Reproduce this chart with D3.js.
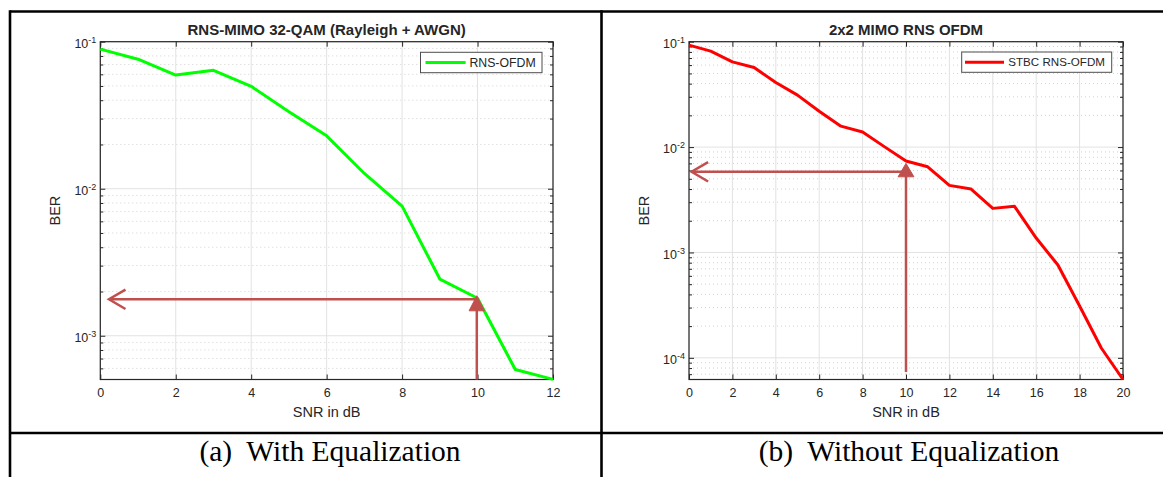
<!DOCTYPE html>
<html><head><meta charset="utf-8">
<script src="https://cdn.jsdelivr.net/npm/d3@7"></script>
<style>
html,body{margin:0;padding:0;background:#fff;}
svg{display:block;}
text{font-family:"Liberation Sans",Arial,sans-serif;fill:#262626;}
.cap{font-family:"Liberation Serif","Times New Roman",serif;fill:#000;white-space:pre;}
</style></head><body>
<svg id="c" width="1163" height="477"></svg>
<script>
// ---------------- data ----------------
const snrA = [0,1,2,3,4,5,6,7,8,9,10,11,12];
const berA = [0.089,0.076,0.0593,0.0639,0.0497,0.0334,0.0229,0.0127,0.00762,0.00243,0.00180,0.00059,0.000505];
const snrB = [0,1,2,3,4,5,6,7,8,9,10,11,12,13,14,15,16,17,18,19,20];
const berB = [0.0927,0.0813,0.0644,0.0569,0.041,0.0311,0.0219,0.0158,0.0139,0.0101,0.00737,0.0065,0.00433,0.0040,0.00262,0.00274,0.00137,0.00076,0.00031,0.000124,0.0000623];
const xTicksA = [0,2,4,6,8,10,12];
const xTicksB = [0,2,4,6,8,10,12,14,16,18,20];
const yTicksA = [0.001,0.01,0.1];
const yTicksB = [0.0001,0.001,0.01,0.1];
const yTickExpA = ["-3","-2","-1"];
const yTickExpB = ["-4","-3","-2","-1"];
const titleA = "RNS-MIMO 32-QAM (Rayleigh + AWGN)";
const titleB = "2x2 MIMO RNS OFDM";
const legendA = "RNS-OFDM";
const legendB = "STBC RNS-OFDM";
const captionA = "(a)  With Equalization";
const captionB = "(b)  Without Equalization";
// annotation arrows (data coordinates): horizontal [x0,x1] at ber, vertical at snr [ber0, ber1]
const arrowHA = [[0.23,0.00177],[10,0.00177]];
const arrowVA = [[9.98,0.000504],[9.98,0.00187]];
const arrowHB = [[0.12,0.00583],[10,0.00583]];
const arrowVB = [[10,0.0000735],[10,0.0070]];

// ---------------- layout ----------------
const svg = d3.select("#c");
const AX = "#262626", ARROW = "#c0504d";

function panel(o){
  const x = d3.scaleLinear().domain(o.xd).range([o.l,o.r]);
  const y = d3.scaleLog().domain(o.yd).range([o.b,o.t]);
  const g = svg.append("g");
  const minors = [];
  const lo = Math.floor(Math.log10(o.yd[0])), hi = Math.ceil(Math.log10(o.yd[1]));
  for (let e=lo;e<hi;e++) for (let m=2;m<=9;m++){ const v=m*Math.pow(10,e); if (v>=o.yd[0]*0.999 && v<=o.yd[1]) minors.push(v); }
  // grid
  g.append("g").selectAll("line").data(minors).join("line")
    .attr("x1",o.l).attr("x2",o.r).attr("y1",d=>y(d)).attr("y2",d=>y(d))
    .attr("stroke","#d2d2d2").attr("stroke-width",1).attr("stroke-dasharray","1,3");
  g.append("g").selectAll("line").data(o.xt).join("line")
    .attr("x1",d=>x(d)).attr("x2",d=>x(d)).attr("y1",o.t).attr("y2",o.b)
    .attr("stroke","#e2e2e2").attr("stroke-width",1);
  g.append("g").selectAll("line").data(o.yt).join("line")
    .attr("x1",o.l).attr("x2",o.r).attr("y1",d=>y(d)).attr("y2",d=>y(d))
    .attr("stroke","#e2e2e2").attr("stroke-width",1);
  // axes
  const bottom = g.append("g").attr("transform",`translate(0,${o.b})`)
    .call(d3.axisBottom(x).tickValues(o.xt).tickSize(-5).tickPadding(9).tickFormat(d3.format("d")));
  g.append("g").attr("transform",`translate(0,${o.t})`)
    .call(d3.axisTop(x).tickValues(o.xt).tickSize(-5).tickFormat(""));
  const left = g.append("g").attr("transform",`translate(${o.l},0)`)
    .call(d3.axisLeft(y).tickValues(o.yt).tickSize(-5).tickPadding(4).tickFormat(""));
  g.append("g").attr("transform",`translate(${o.l},0)`)
    .call(d3.axisLeft(y).tickValues(minors).tickSize(-3).tickFormat(""));
  g.append("g").attr("transform",`translate(${o.r},0)`)
    .call(d3.axisRight(y).tickValues(o.yt).tickSize(-5).tickFormat(""));
  g.append("g").attr("transform",`translate(${o.r},0)`)
    .call(d3.axisRight(y).tickValues(minors).tickSize(-3).tickFormat(""));
  g.selectAll(".domain").remove();
  g.selectAll(".tick line").attr("stroke",AX);
  bottom.selectAll(".tick text").attr("font-size",12.5).attr("fill",AX).attr("font-family","Liberation Sans, Arial, sans-serif");
  left.selectAll(".tick text").each(function(d,i){
    const t = d3.select(this).attr("font-size",12.5).attr("fill",AX).attr("dy","0.45em")
      .attr("font-family","Liberation Sans, Arial, sans-serif");
    t.text(null);
    t.append("tspan").text("10");
    t.append("tspan").attr("font-size",9).attr("dy",-5).text(o.exp[i]);
  });
  g.append("rect").attr("x",o.l).attr("y",o.t).attr("width",o.r-o.l).attr("height",o.b-o.t)
    .attr("fill","none").attr("stroke",AX).attr("stroke-width",1.2);
  // labels
  g.append("text").attr("x",(o.l+o.r)/2).attr("y",o.t-7).attr("text-anchor","middle")
    .attr("font-size",15).attr("font-weight","bold").attr("fill","#000").text(o.title);
  g.append("text").attr("x",(o.l+o.r)/2).attr("y",o.b+37).attr("text-anchor","middle")
    .attr("font-size",14.5).text("SNR in dB");
  g.append("text").attr("transform",`translate(${o.l-40},${(o.t+o.b)/2}) rotate(-90)`)
    .attr("text-anchor","middle").attr("font-size",14.5).text("BER");
  // data line
  const line = d3.line().x(d=>x(d[0])).y(d=>y(d[1]));
  g.append("path").datum(o.sx.map((s,i)=>[s,o.sy[i]])).attr("d",line)
    .attr("fill","none").attr("stroke",o.color).attr("stroke-width",3).attr("stroke-linejoin","round");
  // arrows
  const h = o.ah, v = o.av;
  g.append("line").attr("x1",x(h[0][0])).attr("x2",x(h[1][0])).attr("y1",y(h[0][1])).attr("y2",y(h[1][1]))
    .attr("stroke",ARROW).attr("stroke-width",2.5);
  const tx = x(h[0][0]), ty = y(h[0][1]);
  g.append("path").attr("d",`M${tx+16.5},${ty-9.7}L${tx},${ty}L${tx+16.5},${ty+9.7}`)
    .attr("fill","none").attr("stroke",ARROW).attr("stroke-width",2.5);
  const vx = x(v[0][0]), vy0 = y(v[0][1]), vy1 = y(v[1][1]);
  g.append("line").attr("x1",vx).attr("x2",vx).attr("y1",vy0).attr("y2",vy1+8)
    .attr("stroke",ARROW).attr("stroke-width",2.5);
  g.append("path").attr("d",`M${vx},${vy1}L${vx+o.tw},${vy1+o.th}L${vx-o.tw},${vy1+o.th}Z`)
    .attr("fill",ARROW).attr("stroke",ARROW).attr("stroke-width",1);
  // legend
  const L = o.leg;
  g.append("rect").attr("x",L.x0).attr("y",L.y0).attr("width",L.x1-L.x0).attr("height",L.y1-L.y0)
    .attr("fill","#fff").attr("stroke","#4d4d4d").attr("stroke-width",1);
  const ly = (L.y0+L.y1)/2;
  g.append("line").attr("x1",L.lx0).attr("x2",L.lx1).attr("y1",ly).attr("y2",ly)
    .attr("stroke",o.color).attr("stroke-width",3);
  g.append("text").attr("x",L.tx).attr("y",ly+4.2).attr("font-size",L.fs).attr("fill","#000").text(o.legend);
}

panel({xd:[0,12], yd:[0.000504,0.1], l:100.3, r:553, t:41.7, b:379.5, xt:xTicksA, yt:yTicksA, exp:yTickExpA,
  title:titleA, sx:snrA, sy:berA, color:"#00ff00", ah:arrowHA, av:arrowVA, tw:7.7, th:15,
  leg:{x0:420.5,x1:542,y0:52.3,y1:72.7,lx0:425.5,lx1:465.6,tx:469.4,fs:12.3}, legend:legendA});
panel({xd:[0,20], yd:[0.0000623,0.1], l:689, r:1123, t:41.7, b:379.5, xt:xTicksB, yt:yTicksB, exp:yTickExpB,
  title:titleB, sx:snrB, sy:berB, color:"#ff0000", ah:arrowHB, av:arrowVB, tw:7.9, th:13.4,
  leg:{x0:961.7,x1:1111.7,y0:52,y1:72.3,lx0:965,lx1:1004,tx:1008.3,fs:11.6}, legend:legendB});

// table frame
const T = svg.append("g").attr("stroke","#000").attr("stroke-width",2.6);
T.append("line").attr("x1",10).attr("x2",1163).attr("y1",11.5).attr("y2",11.5);
T.append("line").attr("x1",10).attr("x2",1163).attr("y1",433).attr("y2",433);
T.append("line").attr("x1",10).attr("x2",10).attr("y1",10.2).attr("y2",477);
T.append("line").attr("x1",601.5).attr("x2",601.5).attr("y1",10.2).attr("y2",477);
svg.append("text").attr("class","cap").attr("x",330).attr("y",460.7).attr("text-anchor","middle")
  .attr("font-size",29.5).text(captionA);
svg.append("text").attr("class","cap").attr("x",909).attr("y",460.7).attr("text-anchor","middle")
  .attr("font-size",29.5).text(captionB);
</script>
</body></html>
